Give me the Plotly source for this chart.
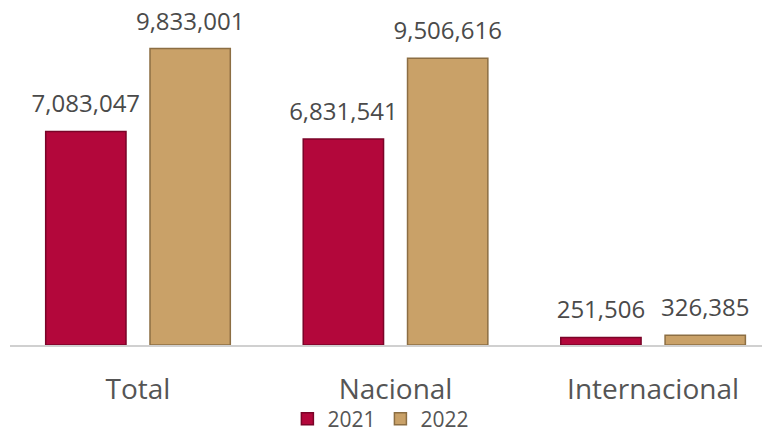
import plotly.graph_objects as go

categories = ["Total", "Nacional", "Internacional"]
values_2021 = [7083047, 6831541, 251506]
values_2022 = [9833001, 9506616, 326385]
series_names = ["2021", "2022"]
colors = ["#B3073B", "#C9A168"]
line_colors = ["#7A0428", "#8C6E43"]

FONT = "Open Sans"

fig = go.Figure()
for name, vals, c, lc in zip(series_names, [values_2021, values_2022], colors, line_colors):
    fig.add_trace(go.Bar(
        x=categories, y=vals, name=name,
        marker=dict(color=c, line=dict(color=lc, width=1.5)),
        text=[f"<span style='font-size:24px'>{v:,}</span><br> " for v in vals],
        textposition="outside",
        constraintext="none",
        textfont=dict(size=10, color="#4a4a4a", family=FONT),
        cliponaxis=False,
    ))

fig.update_layout(
    width=762, height=422,
    margin=dict(l=2, r=0, t=2, b=85, autoexpand=False),
    paper_bgcolor="white", plot_bgcolor="white",
    barmode="group", bargap=0.19, bargroupgap=0.23,
    font=dict(family=FONT, color="#555555"),
    showlegend=True,
    legend=dict(orientation="h", x=0.488, xanchor="center", y=-0.16, yanchor="top",
                font=dict(size=21, color="#555555", family=FONT), itemwidth=30,
                bgcolor="rgba(0,0,0,0)", tracegroupgap=0),
    xaxis=dict(range=[-0.497, 2.454], showline=True, linecolor="#d0d0d0", linewidth=2,
               tickfont=dict(size=28, color="#555555", family=FONT), ticks="",
               ticklabelstandoff=18, showgrid=False, automargin=False),
    yaxis=dict(range=[0, 11110000], visible=False, showgrid=False, automargin=False),
)

fig.write_html("out.html")
